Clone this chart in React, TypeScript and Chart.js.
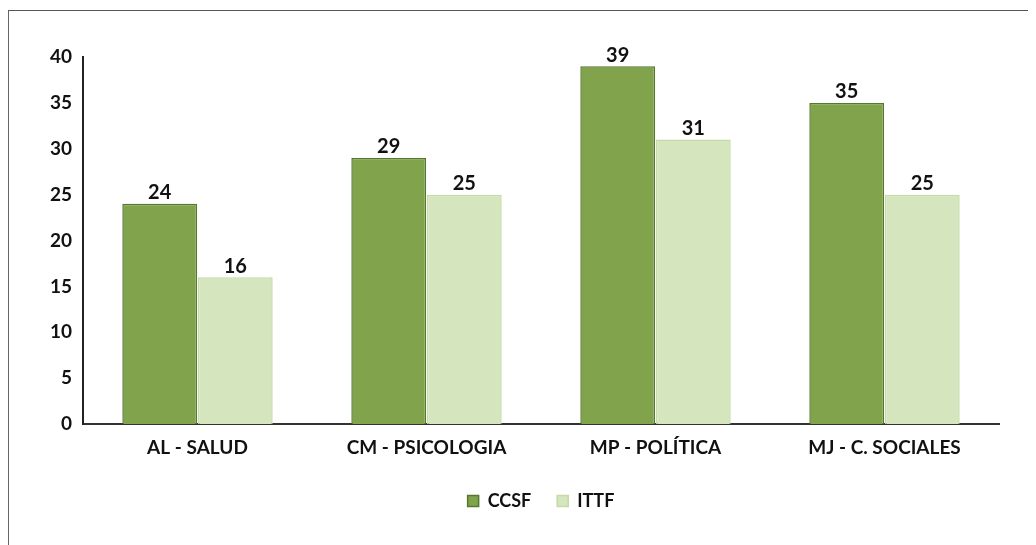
import React, { useEffect, useRef } from "react";
import { Chart, registerables } from "chart.js";

Chart.register(...registerables);

const categories = ["AL - SALUD", "CM - PSICOLOGIA", "MP - POLÍTICA", "MJ - C. SOCIALES"];
const ccsfValues = [24, 29, 39, 35];
const ittfValues = [16, 25, 31, 25];
const seriesNames = ["CCSF", "ITTF"];
const yTicks = [0, 5, 10, 15, 20, 25, 30, 35, 40];

const FONT = "Lato, 'Open Sans', sans-serif";

const valueLabels = {
  id: "valueLabels",
  afterDatasetsDraw(chart: any) {
    const ctx = chart.ctx;
    ctx.save();
    ctx.font = `bold 20px ${FONT}`;
    ctx.fillStyle = "#111";
    ctx.textAlign = "center";
    ctx.textBaseline = "bottom";
    chart.data.datasets.forEach((ds: any, i: number) => {
      const meta = chart.getDatasetMeta(i);
      meta.data.forEach((bar: any, j: number) => {
        ctx.fillText(String(ds.data[j]), bar.x, bar.y - 1);
      });
    });
    ctx.restore();
  },
};

export default function App() {
  const ref = useRef<HTMLCanvasElement | null>(null);
  useEffect(() => {
    if (!ref.current) return;
    const chart = new Chart(ref.current, {
      type: "bar",
      data: {
        labels: categories,
        datasets: [
          {
            label: seriesNames[0],
            data: ccsfValues,
            backgroundColor: "#80a34c",
            borderColor: "#54792c",
            borderWidth: 1.5,
            barPercentage: 0.99,
            categoryPercentage: 0.66,
          },
          {
            label: seriesNames[1],
            data: ittfValues,
            backgroundColor: "#d5e5be",
            borderColor: "#c3dba5",
            borderWidth: 1.5,
            barPercentage: 0.99,
            categoryPercentage: 0.66,
          },
        ],
      },
      options: {
        responsive: false,
        animation: false,
        layout: { padding: { left: 0, right: 36, top: 46, bottom: 24 } },
        plugins: {
          legend: {
            position: "bottom",
            fullSize: false,
            labels: {
              font: { family: FONT, size: 18, weight: "bold" },
              color: "#111",
              boxWidth: 11,
              boxHeight: 11,
              padding: 26,
            },
          },
          tooltip: { enabled: false },
        },
        scales: {
          x: {
            grid: { display: false, drawTicks: false },
            border: { display: true, color: "#333", width: 2 },
            ticks: {
              font: { family: FONT, size: 19, weight: "bold" },
              color: "#111",
              padding: 12,
            },
            afterFit(axis: any) {
              axis.height = 42;
            },
          },
          y: {
            min: 0,
            max: 40,
            grid: { display: false, drawTicks: false },
            border: { display: true, color: "#222", width: 2 },
            afterBuildTicks(axis: any) {
              axis.ticks = yTicks.map((v) => ({ value: v }));
            },
            ticks: {
              font: { family: FONT, size: 19, weight: "bold" },
              color: "#111",
              padding: 11,
            },
            afterFit(axis: any) {
              axis.width = 74;
            },
          },
        },
      },
      plugins: [valueLabels],
    });
    return () => chart.destroy();
  }, []);
  return (
    <div style={{ paddingTop: 2 }}>
      <div
        style={{
          borderLeft: "1.5px solid #666",
          borderTop: "1.5px solid #555",
          width: 1028,
          height: 535,
          boxSizing: "border-box",
          background: "#fff",
        }}
      >
        <canvas ref={ref} width={1026} height={533} style={{ display: "block" }} />
      </div>
    </div>
  );
}
